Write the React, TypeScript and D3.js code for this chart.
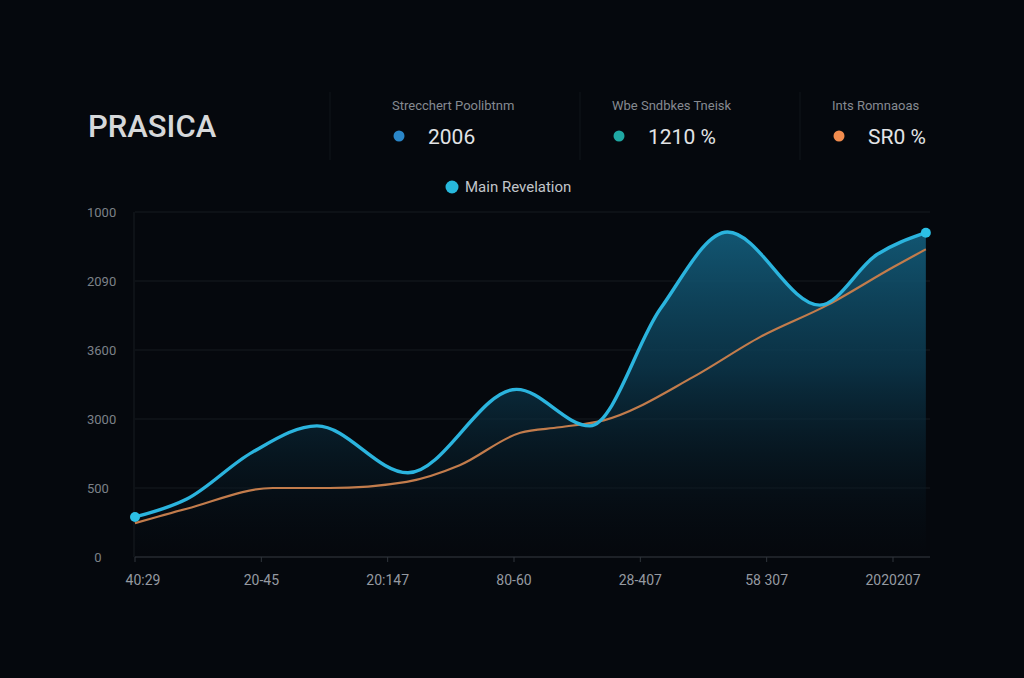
import React from "react";
import * as d3 from "d3";

// Chart content
const title = "PRASICA";
const statLabels = ["Strecchert Poolibtnm", "Wbe Sndbkes Tneisk", "Ints Romnaoas"];
const statValues = ["2006", "1210 %", "SR0 %"];
const statColors = ["#2a86c8", "#1fa8a3", "#f28c4e"];
const legendLabel = "Main Revelation";

const xTickLabels = ["40:29", "20-45", "20:147", "80-60", "28-407", "58 307", "2020207"];
const yTickLabels = ["0", "500", "3000", "3600", "2090", "1000"];

// Main series samples along the x index axis (category units)
const mainX = [0, 0.41, 0.93, 1.44, 2.16, 3.02, 3.6, 4.16, 4.69, 5.42, 5.87, 6.26];
const mainY = [0.58, 0.84, 1.52, 1.9, 1.22, 2.43, 1.9, 3.6, 4.71, 3.65, 4.38, 4.7];
// Trend series samples
const trendX = [0, 0.41, 1.09, 1.54, 2.15, 2.57, 3.05, 3.36, 3.71, 4.42, 4.95, 5.48, 6.0, 6.26];
const trendY = [0.49, 0.7, 1.0, 1.0, 1.09, 1.33, 1.8, 1.88, 1.98, 2.61, 3.19, 3.65, 4.2, 4.46];

const W = 1024;
const H = 678;
const left = 135;
const right = 930;
const top = 212;
const bottom = 557;

export default function App() {
  const x = d3.scaleLinear().domain([0, 6]).range([left, 893]);
  const y = d3.scaleLinear().domain([0, 5]).range([bottom, top]);

  const main = mainX.map((v, i) => [v, mainY[i]] as [number, number]);
  const trend = trendX.map((v, i) => [v, trendY[i]] as [number, number]);

  const curve = d3.curveMonotoneX;
  const line = d3
    .line<[number, number]>()
    .x((d) => x(d[0]))
    .y((d) => y(d[1]))
    .curve(curve);
  const area = d3
    .area<[number, number]>()
    .x((d) => x(d[0]))
    .y0(bottom)
    .y1((d) => y(d[1]))
    .curve(curve);

  const font = "Roboto, 'Noto Sans', sans-serif";
  const statX = [392, 612, 832];
  const first = main[0];
  const last = main[main.length - 1];

  return (
    <div style={{ position: "absolute", left: 0, top: 0 }}>
      <svg width={W} height={H} style={{ display: "block", background: "#05080d" }}>
        <defs>
          <linearGradient id="mainFill" gradientUnits="userSpaceOnUse" x1={0} y1={top} x2={0} y2={bottom}>
            <stop offset="0%" stopColor="#14607f" stopOpacity={0.95} />
            <stop offset="45%" stopColor="#0c3a50" stopOpacity={0.8} />
            <stop offset="100%" stopColor="#05080d" stopOpacity={0.2} />
          </linearGradient>
        </defs>
        <rect width={W} height={H} fill="#05080d" />

        {/* header */}
        <text x={88} y={137} fill="#d6d8da" fontFamily={font} fontWeight={500} fontSize={31}>
          {title}
        </text>
        {[330, 580, 800].map((dx, i) => (
          <line key={i} x1={dx} x2={dx} y1={92} y2={160} stroke="#10141a" strokeWidth={1} />
        ))}
        {statLabels.map((s, i) => (
          <g key={s}>
            <text x={statX[i]} y={110} fill="#858a91" fontFamily={font} fontSize={13}>
              {s}
            </text>
            <circle cx={statX[i] + 7} cy={136} r={5.5} fill={statColors[i]} />
            <text x={statX[i] + 36} y={144} fill="#e2e4e6" fontFamily={font} fontSize={21}>
              {statValues[i]}
            </text>
          </g>
        ))}

        {/* legend */}
        <circle cx={452} cy={187} r={6.5} fill="#27b8dc" />
        <text x={465} y={192} fill="#c2c6ca" fontFamily={font} fontSize={15}>
          {legendLabel}
        </text>

        {/* grid */}
        {yTickLabels.map((t, i) => (
          <g key={i}>
            {i > 0 && (
              <line x1={left} x2={right} y1={y(i)} y2={y(i)} stroke="#161a20" strokeWidth={1} />
            )}
            <text
              x={i === 0 ? 98 : 87}
              y={y(i) + 5}
              textAnchor={i === 0 ? "middle" : "start"}
              fill="#7c8188"
              fontFamily={font}
              fontSize={13}
            >
              {t}
            </text>
          </g>
        ))}
        <line x1={left - 1} x2={left - 1} y1={top} y2={bottom} stroke="#181c22" strokeWidth={1} />

        {/* series */}
        <path d={area(main) ?? ""} fill="url(#mainFill)" />
        <path d={line(trend) ?? ""} fill="none" stroke="#c27c4c" strokeWidth={2.2} />
        <path d={line(main) ?? ""} fill="none" stroke="#2bb4de" strokeWidth={3.4} />
        <circle cx={x(first[0])} cy={y(first[1])} r={5} fill="#2cc0e6" />
        <circle cx={x(last[0])} cy={y(last[1])} r={5} fill="#2cc0e6" />

        {/* x axis */}
        <line x1={left} x2={right} y1={bottom} y2={bottom} stroke="#262a31" strokeWidth={1.5} />
        {xTickLabels.map((t, i) => (
          <g key={t}>
            <line x1={x(i)} x2={x(i)} y1={bottom} y2={bottom + 5} stroke="#30353c" strokeWidth={1} />
            <text
              x={x(i) + (i === 0 ? 8 : 0)}
              y={585}
              textAnchor="middle"
              fill="#959aa1"
              fontFamily={font}
              fontSize={14}
            >
              {t}
            </text>
          </g>
        ))}
      </svg>
    </div>
  );
}
